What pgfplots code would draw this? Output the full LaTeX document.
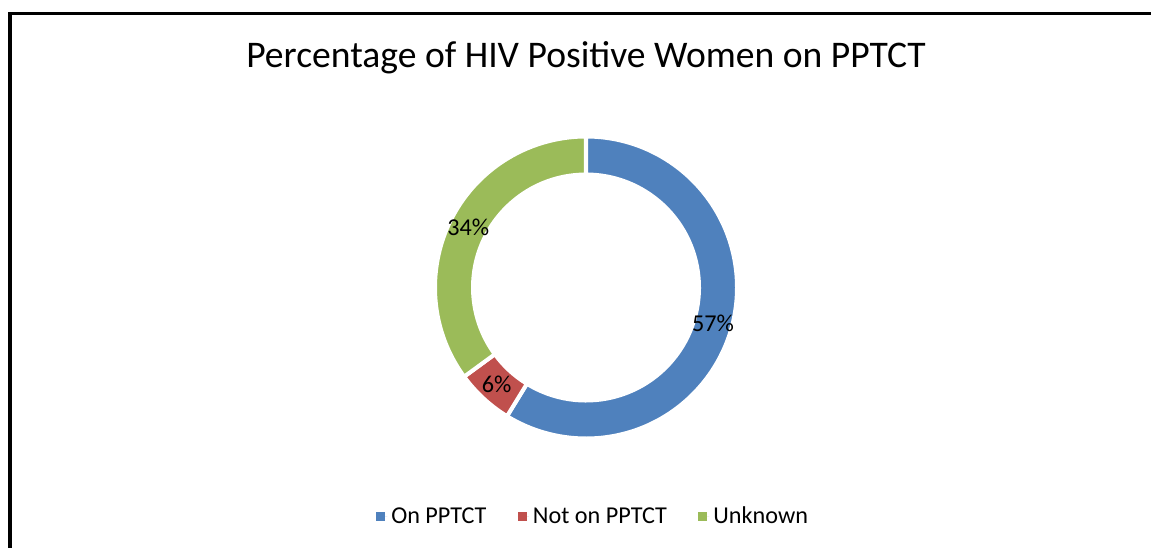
\documentclass[border=0pt]{standalone}
\usepackage{pgfplots}
\pgfplotsset{compat=1.18}
\usepackage{pgfplotstable}
\usepackage{fontspec}
\setmainfont{Carlito}

\definecolor{onC}{HTML}{4F81BD}
\definecolor{notC}{HTML}{C0504D}
\definecolor{unkC}{HTML}{9BBB59}

\newcommand\lblfont{\fontsize{12.1pt}{14pt}\selectfont}
\newcommand\titlefont{\fontsize{18.8pt}{23pt}\selectfont}

% share of HIV positive women, in percent
\pgfplotstableread[col sep=comma]{
name,value,color
On PPTCT,57,onC
Not on PPTCT,6,notC
Unknown,34,unkC
}\slices

\begin{document}
\begin{tikzpicture}
\def\total{0}
\foreach \i in {0,1,2} {%
  \pgfplotstablegetelem{\i}{value}\of\slices
  \pgfmathsetmacro\t{\total+\pgfplotsretval}%
  \xdef\total{\t}%
}
\begin{axis}[
    at={(0,0)}, anchor=south west,
    scale only axis,
    width=575.5pt, height=273.5pt,
    xmin=0, xmax=1151, ymin=0, ymax=547,
    enlargelimits=false,
    hide axis, clip=false,
    legend columns=3,
    legend image code/.code={%
      \fill[#1] (0pt,-2.25pt) rectangle (4.5pt,2.25pt);
      \path (0pt,0pt) -- (5.5pt,0pt);},
    legend style={draw=none, fill=none, font=\lblfont,
        at={(0.5162,0.055)}, anchor=center,
        /tikz/every even column/.append style={column sep=13.75pt}},
]
\addlegendimage{fill=onC, draw=none}
\addlegendentry{On PPTCT}
\addlegendimage{fill=notC, draw=none}
\addlegendentry{Not on PPTCT}
\addlegendimage{fill=unkC, draw=none}
\addlegendentry{Unknown}

\xdef\start{90}
\foreach \i in {0,1,2} {%
  \pgfplotstablegetelem{\i}{value}\of\slices \let\v\pgfplotsretval
  \pgfplotstablegetelem{\i}{color}\of\slices \let\c\pgfplotsretval
  \pgfmathsetmacro\stop{\start-\v/\total*360}%
  \pgfmathsetmacro\mid{(\start+\stop)/2}%
  \edef\wedge{%
    \noexpand\filldraw[fill=\c, draw=white, line width=2pt]
      ([shift={(\start:75.5pt)}]axis cs:586,259.5)
      arc[start angle=\start, end angle=\stop, radius=75.5pt]
      -- ([shift={(\stop:56.5pt)}]axis cs:586,259.5)
      arc[start angle=\stop, end angle=\start, radius=56.5pt] -- cycle;
    \noexpand\node[font=\noexpand\lblfont, inner sep=0pt]
      at ([shift={(\mid:66pt)}]axis cs:586,259.5) {\v\noexpand\%};
  }%
  \wedge
  \xdef\start{\stop}%
}

\node[anchor=base, font=\titlefont, inner sep=0pt] at (axis cs:586,479.3)
  {Percentage of HIV Positive Women on PPTCT};

\draw[line width=1.6pt] (axis cs:1170,533.3) -- (axis cs:10,533.3) -- (axis cs:10,-20);
\coordinate (bl) at (axis cs:0,0);
\coordinate (tr) at (axis cs:1151,547);
\end{axis}
\pgfresetboundingbox
\path[use as bounding box] (bl) rectangle (tr);
\end{tikzpicture}
\end{document}
